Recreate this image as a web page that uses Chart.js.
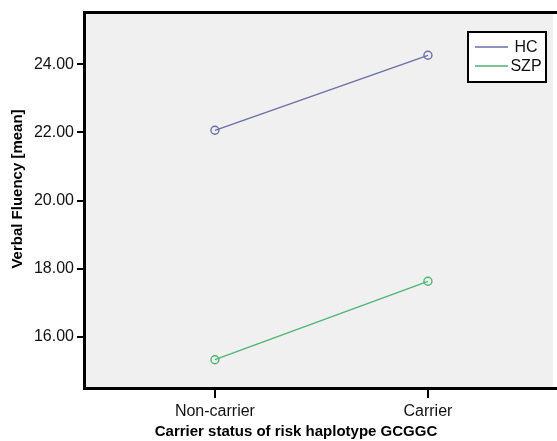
<!DOCTYPE html>
<html>
<head>
<meta charset="utf-8">
<script src="https://cdn.jsdelivr.net/npm/chart.js@4"></script>
<style>
  html, body { margin: 0; padding: 0; background: #fff; }
  #wrap { width: 557px; height: 441px; }
</style>
</head>
<body>
<div id="wrap"><canvas id="chart" width="557" height="441"></canvas></div>
<script>
const categories = ["Non-carrier", "Carrier"];
const hcValues = [22.06, 24.26];
const szpValues = [15.33, 17.63];
const yTicks = [16, 18, 20, 22, 24];

const seriesNames = ["HC", "SZP"];
const seriesColors = ["#6a6ea6", "#4cb572"];
const xTitle = "Carrier status of risk haplotype GCGGC";
const yTitle = "Verbal Fluency [mean]";

const FONT = "'Liberation Sans', Arial, sans-serif";

// grey plot area, heavy frame, x tick marks and the two axis titles
const framePlugin = {
    id: "frame",
    beforeDatasetsDraw(chart) {
        const { ctx, chartArea: a } = chart;
        ctx.save();
        ctx.fillStyle = "#f0f0f0";
        ctx.fillRect(a.left, a.top, a.right - a.left - 4, a.bottom - a.top);
        ctx.restore();
    },
    afterDraw(chart) {
        const { ctx, chartArea: a } = chart;
        const xs = chart.scales.x;
        ctx.save();
        ctx.strokeStyle = "#000";
        ctx.lineWidth = 3;
        ctx.beginPath();
        ctx.moveTo(a.right, a.top - 0.5);
        ctx.lineTo(a.left - 0.5, a.top - 0.5);
        ctx.lineTo(a.left - 0.5, a.bottom + 0.5);
        ctx.lineTo(a.right, a.bottom + 0.5);
        ctx.stroke();

        ctx.lineWidth = 2;
        xs.ticks.forEach(t => {
            const px = Math.round(xs.getPixelForValue(t.value));
            ctx.beginPath();
            ctx.moveTo(px, a.bottom);
            ctx.lineTo(px, a.bottom + 10);
            ctx.stroke();
        });

        ctx.fillStyle = "#000";
        ctx.font = "bold 15px " + FONT;
        ctx.textAlign = "center";
        ctx.textBaseline = "middle";
        ctx.fillText(xTitle, 296, 432);
        ctx.translate(18, 189);
        ctx.rotate(-Math.PI / 2);
        ctx.fillText(yTitle, 0, 0);
        ctx.restore();
    }
};

// boxed legend inside the plot, top right
const boxLegend = {
    id: "boxLegend",
    afterDraw(chart) {
        const { ctx } = chart;
        const x = 468, y = 32, w = 78, h = 50;
        ctx.save();
        ctx.fillStyle = "#fff";
        ctx.fillRect(x, y, w, h);
        ctx.strokeStyle = "#000";
        ctx.lineWidth = 2;
        ctx.strokeRect(x, y, w, h);
        ctx.font = "16px " + FONT;
        ctx.textAlign = "center";
        ctx.textBaseline = "middle";
        chart.data.datasets.forEach((ds, i) => {
            const ly = y + 15 + i * 19;
            ctx.strokeStyle = ds.borderColor;
            ctx.lineWidth = 1.5;
            ctx.beginPath();
            ctx.moveTo(x + 7, ly);
            ctx.lineTo(x + 40, ly);
            ctx.stroke();
            ctx.fillStyle = "#111";
            ctx.fillText(ds.label, x + 58, ly + 1);
        });
        ctx.restore();
    }
};

function series(values, i) {
    return {
        label: seriesNames[i],
        data: values.map((v, k) => ({ x: k, y: v })),
        borderColor: seriesColors[i],
        borderWidth: 1.3,
        pointRadius: 4,
        pointBorderWidth: 1.4,
        pointBackgroundColor: "rgba(0,0,0,0)",
        pointBorderColor: seriesColors[i],
        tension: 0
    };
}

const tickFont = { family: FONT, size: 16 };

new Chart(document.getElementById("chart"), {
    type: "line",
    data: { datasets: [series(hcValues, 0), series(szpValues, 1)] },
    options: {
        responsive: false,
        animation: false,
        layout: { autoPadding: false, padding: { top: 13, left: 0, right: 0, bottom: 0 } },
        plugins: { legend: { display: false }, tooltip: { enabled: false } },
        scales: {
            x: {
                type: "linear",
                min: -0.61,
                max: 1.606,
                afterBuildTicks: s => { s.ticks = categories.map((c, k) => ({ value: k })); },
                afterFit: s => { s.height = 53; s.paddingLeft = 0; s.paddingRight = 0; },
                ticks: { callback: v => categories[v], color: "#111", font: tickFont, padding: 4, maxRotation: 0 },
                grid: { display: false, drawTicks: true, tickLength: 10 },
                border: { display: false },
                title: { display: false }
            },
            y: {
                min: 14.5,
                max: 25.5,
                afterBuildTicks: s => { s.ticks = yTicks.map(v => ({ value: v })); },
                afterFit: s => { s.width = 85; s.paddingTop = 0; s.paddingBottom = 0; },
                ticks: { callback: v => v.toFixed(2), color: "#111", font: tickFont, padding: 3 },
                grid: { drawOnChartArea: false, drawTicks: true, tickLength: 8, color: "#000", lineWidth: 2 },
                border: { display: false },
                title: { display: false }
            }
        }
    },
    plugins: [framePlugin, boxLegend]
});
</script>
</body>
</html>
